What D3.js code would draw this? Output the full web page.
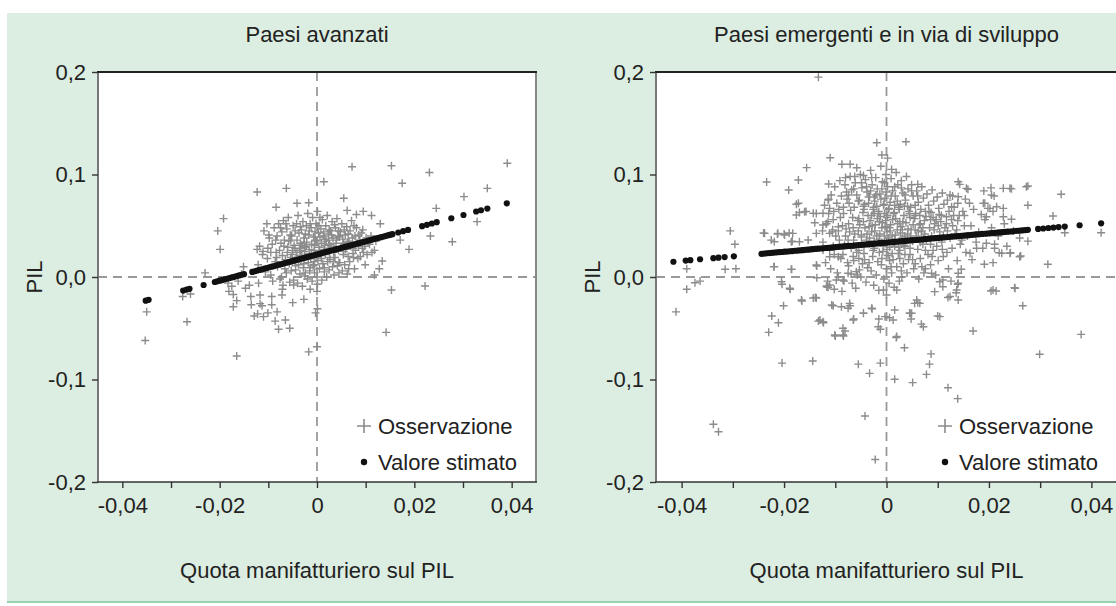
<!DOCTYPE html>
<html><head><meta charset="utf-8">
<script src="https://cdn.jsdelivr.net/npm/d3@7"></script>
<style>
body{margin:0;background:#fff;}
svg{display:block;font-family:"Liberation Sans",Arial,Helvetica,sans-serif;}
</style></head><body>
<svg id="chart" width="1116" height="606"></svg>
<script>
const panelTitles = ["Paesi avanzati", "Paesi emergenti e in via di sviluppo"];
const xDomain = [-0.045, 0.045];
const yDomain = [-0.2, 0.2];
const xTickValues = [-0.04, -0.03, -0.02, -0.01, 0, 0.01, 0.02, 0.03, 0.04];
const xTickLabels = ["-0,04", "", "-0,02", "", "0", "", "0,02", "", "0,04"];
const yTickValues = [0.2, 0.1, 0, -0.1, -0.2];
const yTickLabels = ["0,2", "0,1", "0,0", "-0,1", "-0,2"];
const xTitle = "Quota manifatturiero sul PIL";
const yTitle = "PIL";
const legendLabels = ["Osservazione", "Valore stimato"];

// Paesi avanzati: scattered observations
const advObs = [[-0.0123,0.083],[-0.0063,0.0865],[-0.0084,0.068],[-0.0041,0.072],[-0.0017,0.0725],[-0.0192,0.057],[-0.0204,0.045],[-0.0199,0.027],[-0.0103,0.052],[-0.0099,0.041],[-0.0123,0.027],[-0.0111,0.025],[-0.023,0.004],[-0.0151,0.010],[-0.0183,-0.006],[-0.0175,-0.009],[-0.0181,-0.014],[-0.0172,-0.017],[-0.0165,-0.023],[-0.0172,-0.029],[-0.0139,-0.008],[-0.0136,-0.019],[-0.0135,-0.027],[-0.0129,-0.038],[-0.0122,-0.036],[-0.0101,-0.035],[-0.0113,-0.028],[-0.0093,-0.019],[-0.0086,-0.043],[-0.0079,-0.051],[-0.0071,-0.012],[-0.0050,-0.025],[-0.035,-0.034],[-0.0353,-0.062],[-0.0267,-0.0436],[-0.0276,-0.019],[-0.026,-0.0166],[-0.0165,-0.077],[-0.0017,-0.073],[0.0,-0.068],[-0.0003,-0.035],[0.0,-0.014],[0.0072,0.1076],[0.0153,0.1086],[0.0231,0.102],[0.0391,0.111],[0.0175,0.0914],[0.0014,0.093],[0.0055,0.0768],[0.0302,0.0784],[0.035,0.0865],[0.0245,0.067],[0.0329,0.054],[0.0233,0.040],[0.0278,0.0344],[0.0189,0.027],[0.0171,0.036],[0.0134,0.0156],[0.0153,-0.0127],[0.0222,-0.0088],[0.0142,-0.054],[0.0001,-0.031],[-0.012,-0.006],[-0.0117,-0.0176],[-0.0117,-0.026],[-0.011,-0.0387],[-0.0082,-0.034],[-0.0093,-0.027],[-0.0072,-0.0176],[-0.0065,-0.042],[-0.0056,-0.050],[-0.0048,-0.0078],[-0.0027,-0.0218],[-0.0155,0.003],[-0.0162,-0.004],[-0.0147,-0.011],[0.0130,0.052],[0.0112,0.060],[0.0095,0.064],[0.0128,0.008],[0.0118,0.002],[0.0062,0.065],[0.0081,0.061]];

// Paesi avanzati: dense core of observations
const advCore = [[-0.0118,0.030],[-0.0121,0.012],[-0.0109,0.045],[-0.0112,0.022],[-0.0106,0.005],[-0.0098,0.038],[-0.0102,0.018],[-0.0095,0.002],[-0.0101,0.028],[-0.0088,0.048],[-0.0092,0.032],[-0.0086,0.015],[-0.0091,-0.004],[-0.0084,0.024],[-0.0079,0.052],[-0.0082,0.040],[-0.0077,0.026],[-0.0081,0.010],[-0.0076,-0.002],[-0.0083,0.019],[-0.0069,0.055],[-0.0072,0.044],[-0.0068,0.030],[-0.0071,0.021],[-0.0066,0.008],[-0.0073,0.000],[-0.0067,0.036],[-0.0070,-0.008],[-0.0059,0.058],[-0.0062,0.047],[-0.0058,0.035],[-0.0061,0.024],[-0.0057,0.013],[-0.0063,0.004],[-0.0056,-0.005],[-0.0060,0.029],[-0.0055,0.041],[-0.0049,0.050],[-0.0052,0.040],[-0.0047,0.031],[-0.0051,0.022],[-0.0046,0.016],[-0.0053,0.006],[-0.0048,-0.003],[-0.0045,0.045],[-0.0050,0.026],[-0.0044,0.011],[-0.0039,0.060],[-0.0042,0.052],[-0.0037,0.043],[-0.0041,0.036],[-0.0036,0.028],[-0.0043,0.019],[-0.0038,0.012],[-0.0035,0.003],[-0.0040,-0.006],[-0.0034,0.033],[-0.0041,0.024],[-0.0029,0.054],[-0.0032,0.046],[-0.0027,0.038],[-0.0031,0.031],[-0.0026,0.025],[-0.0033,0.017],[-0.0028,0.009],[-0.0025,0.001],[-0.0030,-0.009],[-0.0024,0.042],[-0.0031,0.021],[-0.0027,0.013],[-0.0019,0.062],[-0.0022,0.050],[-0.0017,0.041],[-0.0021,0.034],[-0.0016,0.027],[-0.0023,0.020],[-0.0018,0.014],[-0.0015,0.006],[-0.0020,-0.002],[-0.0014,-0.012],[-0.0022,0.030],[-0.0016,0.045],[-0.0009,0.058],[-0.0012,0.048],[-0.0007,0.039],[-0.0011,0.032],[-0.0006,0.026],[-0.0013,0.018],[-0.0008,0.011],[-0.0005,0.004],[-0.0010,-0.004],[-0.0004,0.036],[-0.0011,0.022],[-0.0006,0.015],[0.0001,0.064],[-0.0002,0.052],[0.0003,0.043],[-0.0001,0.035],[0.0004,0.029],[-0.0003,0.023],[0.0002,0.016],[0.0005,0.008],[0.0000,0.000],[0.0001,-0.007],[0.0006,0.039],[-0.0002,0.020],[0.0011,0.056],[0.0008,0.047],[0.0013,0.040],[0.0009,0.033],[0.0014,0.027],[0.0007,0.021],[0.0012,0.013],[0.0015,0.005],[0.0010,-0.003],[0.0016,0.037],[0.0009,0.018],[0.0021,0.060],[0.0018,0.050],[0.0023,0.042],[0.0019,0.035],[0.0024,0.028],[0.0017,0.022],[0.0022,0.015],[0.0025,0.007],[0.0020,0.000],[0.0026,0.032],[0.0031,0.054],[0.0028,0.045],[0.0033,0.038],[0.0029,0.030],[0.0034,0.024],[0.0027,0.017],[0.0032,0.010],[0.0035,0.002],[0.0030,0.041],[0.0041,0.057],[0.0038,0.048],[0.0043,0.040],[0.0039,0.033],[0.0044,0.026],[0.0037,0.019],[0.0042,0.011],[0.0045,0.004],[0.0040,0.036],[0.0051,0.052],[0.0048,0.044],[0.0053,0.037],[0.0049,0.029],[0.0054,0.022],[0.0047,0.014],[0.0052,0.006],[0.0055,0.033],[0.0061,0.049],[0.0058,0.041],[0.0063,0.034],[0.0059,0.027],[0.0064,0.020],[0.0057,0.012],[0.0062,0.003],[0.0071,0.055],[0.0068,0.045],[0.0073,0.038],[0.0069,0.030],[0.0074,0.023],[0.0067,0.015],[0.0081,0.048],[0.0078,0.040],[0.0083,0.033],[0.0079,0.026],[0.0084,0.018],[0.0077,0.008],[0.0091,0.043],[0.0088,0.036],[0.0093,0.028],[0.0089,0.020],[0.0094,0.046],[0.0101,0.038],[0.0098,0.030],[0.0103,0.022],[0.0099,0.012],[0.0111,0.040],[0.0108,0.032],[0.0113,0.024],[0.0121,0.035],[0.0118,0.026],
[-0.0065,0.017],[-0.0054,0.036],[-0.0044,0.007],[-0.0034,0.049],[-0.0035,0.021],[-0.0026,0.034],[-0.0024,0.004],[-0.0015,0.023],[-0.0014,0.052],[-0.0005,0.012],[-0.0004,0.044],[0.0005,0.026],[0.0006,0.058],[0.0015,0.009],[0.0016,0.031],[0.0025,0.046],[0.0026,0.019],[0.0035,0.028],[0.0036,0.051],[0.0045,0.014],[0.0046,0.039],[0.0055,0.025],[0.0056,0.046],[0.0065,0.008],[0.0066,0.035],[0.0075,0.019],[0.0076,0.050],[0.0085,0.030],[0.0086,0.041],[0.0095,0.024],[0.0105,0.034],[-0.0074,0.033],[-0.0075,0.048],[-0.0085,0.036],[-0.0095,0.024],[-0.0064,0.052],[-0.0045,0.028],[-0.0025,0.029],[-0.0005,0.031],[0.0004,0.050],[0.0014,0.044],[0.0024,0.036],[0.0034,0.015],[0.0044,0.045],[0.0054,0.030],[0.0064,0.042],[0.0074,0.028],[-0.0054,0.019],[-0.0034,0.026],[-0.0014,0.009]];

// Paesi avanzati: estimated values
const advFit = [[-0.0352,-0.0231],[-0.0346,-0.0223],[-0.0275,-0.0132],[-0.0268,-0.0123],[-0.0262,-0.0115],[-0.0233,-0.0078],[-0.0210,-0.0049],[-0.0200,-0.0036],[-0.0190,-0.0023],[-0.0180,-0.0010],[-0.0170,0.0002],[-0.0160,0.0015],[-0.0150,0.0028],[-0.0133,0.0050],[-0.0123,0.0063],[-0.0113,0.0075],[-0.0103,0.0088],[-0.0093,0.0101],[-0.0083,0.0114],[-0.0073,0.0127],[-0.0063,0.0139],[-0.0053,0.0152],[-0.0043,0.0165],[-0.0033,0.0178],[-0.0023,0.0191],[-0.0013,0.0203],[-0.0003,0.0216],[0.0007,0.0229],[0.0017,0.0242],[0.0027,0.0255],[0.0037,0.0267],[0.0047,0.0280],[0.0057,0.0293],[0.0067,0.0306],[0.0077,0.0319],[0.0087,0.0331],[0.0097,0.0344],[0.0107,0.0357],[0.0117,0.0370],[0.0127,0.0383],[0.0137,0.0395],[0.0147,0.0408],[0.0155,0.0418],[0.0167,0.0434],[0.0177,0.0447],[0.0187,0.0459],[0.0216,0.0496],[0.0226,0.0509],[0.0236,0.0522],[0.0246,0.0535],[0.0276,0.0573],[0.0301,0.0605],[0.0327,0.0639],[0.0337,0.0651],[0.0350,0.0668],[0.0390,0.0719]];
const advFitDense = [[-0.0205,-0.0042],[-0.0195,-0.0030],[-0.0185,-0.0017],[-0.0175,-0.0004],[-0.0165,0.0009],[-0.0155,0.0022],[-0.0128,0.0056],[-0.0118,0.0069],[-0.0108,0.0082],[-0.0098,0.0095],[-0.0088,0.0107],[-0.0078,0.0120],[-0.0068,0.0133],[-0.0058,0.0146],[-0.0048,0.0159],[-0.0038,0.0171],[-0.0028,0.0184],[-0.0018,0.0197],[-0.0008,0.0210],[0.0002,0.0223],[0.0012,0.0235],[0.0022,0.0248],[0.0032,0.0261],[0.0042,0.0274],[0.0052,0.0287],[0.0062,0.0299],[0.0072,0.0312],[0.0082,0.0325],[0.0092,0.0338],[0.0102,0.0351],[0.0112,0.0363],[0.0122,0.0376],[0.0132,0.0389],[0.0142,0.0402],[0.0151,0.0413]];

// Paesi emergenti: scattered observations
const emgObs = [[-0.0133,0.195],[-0.0019,0.131],[-0.0009,0.119],[-0.011,0.1164],[-0.0156,0.1067],[-0.0234,0.0927],[-0.0191,0.0849],[-0.0172,0.0946],[-0.0087,0.110],[-0.0071,0.110],[-0.0058,0.1066],[-0.0080,0.097],[-0.0062,0.098],[-0.0045,0.099],[-0.0113,0.0907],[-0.0113,0.0758],[-0.0176,0.071],[-0.0170,0.063],[-0.0157,0.064],[-0.0137,0.062],[-0.0140,0.053],[-0.0118,0.052],[-0.0125,0.045],[-0.0105,0.046],[-0.0305,0.045],[-0.0296,0.032],[-0.0315,0.0075],[-0.0294,0.008],[-0.039,0.008],[-0.039,-0.012],[-0.0374,-0.0056],[-0.0364,-0.004],[-0.0411,-0.034],[-0.0338,-0.1437],[-0.0328,-0.151],[-0.0240,0.043],[-0.0225,0.036],[-0.0213,0.042],[-0.0200,0.042],[-0.0190,0.043],[-0.0184,0.035],[-0.022,0.010],[-0.0185,0.0075],[-0.0204,-0.007],[-0.0188,-0.012],[-0.0201,-0.028],[-0.0224,-0.038],[-0.0211,-0.0446],[-0.023,-0.054],[-0.0204,-0.084],[-0.0144,-0.082],[-0.0165,-0.0234],[-0.0139,-0.020],[-0.0133,-0.043],[-0.0123,-0.0446],[-0.0104,-0.028],[-0.0100,-0.0576],[-0.0084,-0.0576],[-0.0081,-0.0527],[-0.0136,0.0107],[-0.0136,-0.0007],[-0.0117,-0.0088],[-0.0102,-0.012],[-0.0071,-0.028],[-0.0064,-0.041],[-0.0045,-0.035],[-0.0028,-0.031],[-0.0015,-0.041],[-0.0012,-0.051],[-0.0055,-0.085],[-0.0033,-0.094],[-0.0012,-0.084],[-0.0042,-0.1356],[-0.0022,-0.178],[0.0038,0.132],[0.0002,0.116],[0.0010,0.105],[0.0061,0.0904],[0.0143,0.0904],[0.0159,0.0856],[0.0190,0.084],[0.0204,0.087],[0.0210,0.079],[0.0189,0.072],[0.0198,0.067],[0.0208,0.064],[0.0244,0.086],[0.0276,0.0888],[0.0341,0.0807],[0.0276,0.070],[0.0325,0.0595],[0.0244,0.0563],[0.0348,0.0432],[0.0419,0.0432],[0.0276,0.035],[0.0242,0.0237],[0.0262,0.0205],[0.0211,0.032],[0.0220,0.0237],[0.0191,0.0124],[0.0208,0.014],[0.0315,0.0124],[0.0204,-0.0137],[0.0214,-0.0137],[0.0250,-0.0104],[0.0266,-0.028],[0.0380,-0.056],[0.0299,-0.0754],[0.0169,-0.0527],[0.0146,0.0075],[0.0126,-0.004],[0.0139,-0.007],[0.0136,-0.0153],[0.0120,-0.020],[0.010,-0.038],[0.0061,-0.025],[0.0068,-0.046],[0.0045,-0.035],[0.0048,-0.041],[0.0019,-0.059],[0.0035,-0.069],[0.0087,-0.075],[0.0084,-0.085],[0.0078,-0.095],[0.0016,-0.0998],[0.0051,-0.103],[0.012,-0.108],[0.0139,-0.1187],[0.0006,-0.0397],[-0.0172,0.0719],[-0.0176,0.0605],[-0.016,0.0637],[-0.0143,0.0622],[-0.0124,0.0622],[-0.0114,0.0751],[-0.0111,0.067],[-0.0114,0.054],[-0.0124,0.0507],[-0.0137,0.0426],[-0.0111,0.0426],[-0.0094,0.049],[-0.0238,0.0426],[-0.0212,0.0426],[-0.0199,0.041],[-0.0183,0.0426],[-0.0219,0.0344],[-0.0186,0.0344],[-0.017,0.0344],[-0.0153,0.0361],[-0.0219,0.010],[-0.0186,0.0075],[-0.0137,0.0117],[-0.0124,0.0263],[-0.0111,0.0198],[-0.0094,0.0198],[-0.0205,-0.0046],[-0.0189,-0.011],[-0.0166,-0.0224],[-0.0143,-0.0205],[-0.0137,-0.0205],[-0.0107,-0.0273],[-0.0088,-0.029],[-0.0117,-0.0095],[-0.0111,-0.0078],[-0.0098,-0.0029],[-0.0085,-0.0029],[-0.0075,0.0036],[-0.0059,0.0052],[-0.013,-0.042],[-0.0124,-0.0436],[-0.0101,-0.0566],[-0.0085,-0.0566],[-0.0085,-0.050],[-0.0072,-0.0257],[-0.0075,-0.0305],[-0.0065,-0.042],[-0.0045,-0.0354],[-0.0029,-0.0305],[-0.0016,-0.0485],[-0.0003,-0.0387],[0.0013,-0.042],[0.0016,-0.0322],[0.0,-0.0176],[-0.0006,-0.0127],[0.0059,-0.0224],[0.0046,-0.0354],[0.002,-0.0127],[0.0088,0.0036],[0.0104,-0.0046],[0.011,-0.0029],[0.014,0.0036],[0.014,-0.006],[0.0163,0.0231],[0.0176,0.028],[0.0195,0.0329],[0.0211,0.028],[0.0225,0.0231],[0.0241,0.0231],[0.0260,0.0198],[0.0228,0.0865],[0.0205,0.080],[0.0192,0.0719],[0.0202,0.067],[0.0215,0.0686],[0.0228,0.067],[0.0195,0.0588],[0.0228,0.0588],[0.014,0.093],[0.0156,0.0865],[0.0124,0.080],[0.014,0.0783],[0.0127,0.0686],[0.0117,0.0588],[0.0241,0.0865],[0.0273,0.088],[0.0251,-0.011],[0.0208,-0.0127],[0.0110,-0.0095],[0.0094,-0.0143],[0.0124,-0.019],[0.0137,-0.0127],[0.0140,-0.0224],[0.0104,-0.0387],[0.0065,-0.0257],[0.0072,-0.0485],[0.0055,-0.0257],[0.0049,-0.0354],[0.0020,-0.058],[0.0165,0.050],[0.0180,0.044],[0.0192,0.056],[0.0205,0.048],[0.0218,0.040],[0.0230,0.052],[0.0248,0.045],[0.0260,0.038],[0.0175,0.034],[0.0188,0.028],[0.0158,0.040],[0.0152,0.060],[0.0170,0.066],[0.0185,0.061],[0.0162,0.072],[0.0155,0.024],[0.0167,0.017],[0.0235,0.030]];

// Paesi emergenti: dense core of observations
const emgCore = [[-0.0121,0.070],[-0.0117,0.052],[-0.0124,0.034],[-0.0119,0.014],[-0.0115,-0.004],[-0.0108,0.080],[-0.0113,0.062],[-0.0106,0.044],[-0.0111,0.026],[-0.0109,0.008],[-0.0114,-0.010],[-0.0101,0.088],[-0.0097,0.072],[-0.0104,0.056],[-0.0099,0.040],[-0.0102,0.022],[-0.0096,0.004],[-0.0103,0.064],[-0.0091,0.094],[-0.0088,0.079],[-0.0093,0.066],[-0.0086,0.050],[-0.0092,0.036],[-0.0089,0.018],[-0.0094,0.000],[-0.0087,-0.014],[-0.0090,0.058],[-0.0081,0.090],[-0.0077,0.076],[-0.0084,0.062],[-0.0079,0.047],[-0.0082,0.031],[-0.0076,0.014],[-0.0083,-0.004],[-0.0078,0.083],[-0.0080,0.040],[-0.0085,0.022],[-0.0071,0.098],[-0.0068,0.085],[-0.0073,0.072],[-0.0066,0.058],[-0.0072,0.044],[-0.0069,0.028],[-0.0074,0.011],[-0.0067,-0.006],[-0.0070,0.065],[-0.0075,0.036],[-0.0065,0.020],[-0.0061,0.092],[-0.0058,0.080],[-0.0063,0.068],[-0.0056,0.055],[-0.0062,0.042],[-0.0059,0.030],[-0.0064,0.016],[-0.0057,0.002],[-0.0060,-0.011],[-0.0055,0.074],[-0.0065,0.048],[-0.0058,0.024],[-0.0051,0.100],[-0.0048,0.087],[-0.0053,0.075],[-0.0046,0.063],[-0.0052,0.051],[-0.0049,0.039],[-0.0054,0.026],[-0.0047,0.013],[-0.0050,0.000],[-0.0045,0.069],[-0.0055,0.045],[-0.0048,0.032],[-0.0053,0.007],[-0.0041,0.095],[-0.0038,0.083],[-0.0043,0.071],[-0.0036,0.060],[-0.0042,0.048],[-0.0039,0.036],[-0.0044,0.023],[-0.0037,0.009],[-0.0040,-0.005],[-0.0035,0.078],[-0.0045,0.054],[-0.0038,0.042],[-0.0043,0.017],[-0.0031,0.104],[-0.0028,0.090],[-0.0033,0.078],[-0.0026,0.066],[-0.0032,0.055],[-0.0029,0.044],[-0.0034,0.032],[-0.0027,0.020],[-0.0030,0.006],[-0.0025,-0.008],[-0.0035,0.072],[-0.0028,0.050],[-0.0033,0.038],[-0.0026,0.026],[-0.0031,0.084],[-0.0021,0.097],[-0.0018,0.086],[-0.0023,0.074],[-0.0016,0.062],[-0.0022,0.051],[-0.0019,0.040],[-0.0024,0.028],[-0.0017,0.015],[-0.0020,0.002],[-0.0015,-0.013],[-0.0025,0.068],[-0.0018,0.057],[-0.0023,0.045],[-0.0016,0.034],[-0.0021,0.080],[-0.0011,0.108],[-0.0008,0.093],[-0.0013,0.081],[-0.0006,0.070],[-0.0012,0.059],[-0.0009,0.048],[-0.0014,0.037],[-0.0007,0.025],[-0.0010,0.012],[-0.0005,-0.002],[-0.0015,0.064],[-0.0008,0.053],[-0.0013,0.042],[-0.0006,0.030],[-0.0011,0.076],[-0.0009,0.018],[-0.0001,0.100],[0.0002,0.088],[-0.0003,0.077],[0.0004,0.066],[-0.0002,0.055],[0.0001,0.044],[-0.0004,0.033],[0.0003,0.021],[0.0000,0.008],[0.0005,-0.006],[-0.0005,0.071],[0.0002,0.060],[-0.0003,0.049],[0.0004,0.038],[-0.0001,0.083],[0.0001,0.027],[0.0009,0.096],[0.0012,0.084],[0.0007,0.073],[0.0014,0.062],[0.0008,0.051],[0.0011,0.040],[0.0006,0.029],[0.0013,0.017],[0.0010,0.004],[0.0015,-0.010],[0.0005,0.067],[0.0012,0.056],[0.0007,0.045],[0.0014,0.034],[0.0009,0.079],[0.0019,0.102],[0.0022,0.090],[0.0017,0.079],[0.0024,0.068],[0.0018,0.057],[0.0021,0.046],[0.0016,0.035],[0.0023,0.023],[0.0020,0.010],[0.0025,-0.004],[0.0015,0.063],[0.0022,0.052],[0.0017,0.041],[0.0024,0.029],[0.0029,0.094],[0.0032,0.082],[0.0027,0.071],[0.0034,0.060],[0.0028,0.049],[0.0031,0.038],[0.0026,0.026],[0.0033,0.013],[0.0030,0.000],[0.0025,0.066],[0.0032,0.054],[0.0027,0.043],[0.0034,0.031],[0.0029,0.087],[0.0039,0.098],[0.0042,0.086],[0.0037,0.075],[0.0044,0.064],[0.0038,0.053],[0.0041,0.042],[0.0036,0.030],[0.0043,0.017],[0.0040,0.004],[0.0035,0.069],[0.0042,0.047],[0.0037,0.036],[0.0049,0.090],[0.0052,0.079],[0.0047,0.068],[0.0054,0.057],[0.0048,0.046],[0.0051,0.035],[0.0046,0.022],[0.0053,0.008],[0.0045,0.062],[0.0052,0.051],[0.0047,0.040],[0.0059,0.084],[0.0062,0.073],[0.0057,0.062],[0.0064,0.051],[0.0058,0.040],[0.0061,0.027],[0.0056,0.013],[0.0063,-0.002],[0.0055,0.057],[0.0062,0.045],[0.0069,0.088],[0.0072,0.077],[0.0067,0.066],[0.0074,0.055],[0.0068,0.044],[0.0071,0.032],[0.0066,0.018],[0.0073,0.004],[0.0065,0.060],[0.0072,0.037],[0.0079,0.081],[0.0082,0.070],[0.0077,0.059],[0.0084,0.048],[0.0078,0.036],[0.0081,0.022],[0.0076,0.008],[0.0083,0.064],[0.0075,0.042],[0.0089,0.085],[0.0092,0.074],[0.0087,0.063],[0.0094,0.052],[0.0088,0.040],[0.0091,0.026],[0.0086,0.012],[0.0093,0.046],[0.0099,0.078],[0.0102,0.067],[0.0097,0.056],[0.0104,0.044],[0.0098,0.030],[0.0101,0.016],[0.0096,0.002],[0.0103,0.061],[0.0109,0.082],[0.0112,0.071],[0.0107,0.060],[0.0114,0.048],[0.0108,0.034],[0.0111,0.020],[0.0106,0.054],[0.0119,0.075],[0.0122,0.064],[0.0117,0.052],[0.0124,0.038],[0.0118,0.024],[0.0121,0.008],[0.0129,0.079],[0.0132,0.068],[0.0127,0.056],[0.0134,0.042],[0.0128,0.028],[0.0131,0.060],[0.0139,0.072],[0.0142,0.060],[0.0137,0.046],[0.0144,0.032],[0.0138,0.016],[0.0149,0.064],[0.0152,0.050],[0.0147,0.036],[0.0154,0.076],
[-0.0064,0.036],[-0.0054,0.057],[-0.0044,0.030],[-0.0044,0.066],[-0.0034,0.049],[-0.0034,0.014],[-0.0024,0.035],[-0.0024,0.078],[-0.0014,0.054],[-0.0014,0.024],[-0.0004,0.040],[-0.0004,0.062],[0.0006,0.016],[0.0006,0.048],[0.0016,0.070],[0.0016,0.030],[0.0026,0.054],[0.0026,0.018],[0.0036,0.040],[0.0036,0.080],[0.0046,0.058],[0.0046,0.028],[0.0056,0.046],[0.0056,0.070],[0.0066,0.034],[0.0066,0.052],[0.0076,0.064],[0.0076,0.026],[0.0086,0.056],[0.0086,0.032],[-0.0074,0.052],[-0.0074,0.080],[-0.0084,0.068],[-0.0064,0.086],[-0.0054,0.018],[-0.0024,0.062],[-0.0004,0.092],[0.0016,0.088],[0.0036,0.022],[0.0056,0.060],[-0.0039,0.088],[-0.0019,0.069],[0.0001,0.058],[0.0021,0.074],[0.0041,0.069],[0.0061,0.079],[-0.0049,0.041],[-0.0029,0.060],[-0.0009,0.086],[0.0011,0.023],[0.0031,0.046],[0.0051,0.017],[0.0071,0.048],[0.0091,0.058],[0.0101,0.050],[0.0111,0.040],[-0.0094,0.045],[-0.0104,0.030],[-0.0069,0.003],[-0.0049,0.092],[-0.0029,0.097],[0.0009,0.010],[0.0029,0.006],[0.0049,0.084],[0.0069,0.010],[0.0089,0.020],[0.0109,0.027],[0.0119,0.045],[0.0129,0.050],[0.0139,0.055]];

// Paesi emergenti: estimated values
const emgFit = [[-0.0416,0.0149],[-0.0392,0.0160],[-0.0383,0.0164],[-0.0364,0.0173],[-0.0338,0.0184],[-0.0328,0.0189],[-0.0316,0.0194],[-0.0298,0.0202],[-0.0244,0.0226],[-0.0234,0.0231],[-0.0224,0.0235],[-0.0214,0.0240],[-0.0204,0.0244],[-0.0194,0.0249],[-0.0184,0.0253],[-0.0174,0.0258],[-0.0164,0.0262],[-0.0154,0.0267],[-0.0144,0.0271],[-0.0134,0.0276],[-0.0124,0.0280],[-0.0114,0.0285],[-0.0104,0.0289],[-0.0094,0.0294],[-0.0084,0.0298],[-0.0074,0.0303],[-0.0064,0.0307],[-0.0054,0.0312],[-0.0044,0.0316],[-0.0034,0.0321],[-0.0024,0.0325],[-0.0014,0.0330],[-0.0004,0.0334],[0.0006,0.0339],[0.0016,0.0343],[0.0026,0.0348],[0.0036,0.0352],[0.0046,0.0357],[0.0056,0.0361],[0.0066,0.0366],[0.0076,0.0370],[0.0086,0.0375],[0.0096,0.0379],[0.0106,0.0384],[0.0116,0.0388],[0.0126,0.0393],[0.0136,0.0397],[0.0146,0.0402],[0.0156,0.0406],[0.0166,0.0411],[0.0176,0.0415],[0.0186,0.0420],[0.0196,0.0424],[0.0206,0.0428],[0.0216,0.0433],[0.0226,0.0437],[0.0236,0.0442],[0.0246,0.0446],[0.0256,0.0451],[0.0266,0.0455],[0.0276,0.0460],[0.0296,0.0469],[0.0306,0.0473],[0.0316,0.0478],[0.0326,0.0482],[0.0336,0.0487],[0.0348,0.0492],[0.0377,0.0505],[0.0419,0.0524]];
const emgFitDense = [[-0.0239,0.0229],[-0.0229,0.0233],[-0.0219,0.0238],[-0.0209,0.0242],[-0.0199,0.0247],[-0.0189,0.0251],[-0.0179,0.0256],[-0.0169,0.0260],[-0.0159,0.0265],[-0.0149,0.0269],[-0.0139,0.0274],[-0.0129,0.0278],[-0.0119,0.0283],[-0.0109,0.0287],[-0.0099,0.0292],[-0.0089,0.0296],[-0.0079,0.0301],[-0.0069,0.0305],[-0.0059,0.0310],[-0.0049,0.0314],[-0.0039,0.0318],[-0.0029,0.0323],[-0.0019,0.0327],[-0.0009,0.0332],[0.0001,0.0336],[0.0011,0.0341],[0.0021,0.0345],[0.0031,0.0350],[0.0041,0.0354],[0.0051,0.0359],[0.0061,0.0363],[0.0071,0.0368],[0.0081,0.0372],[0.0091,0.0377],[0.0101,0.0381],[0.0111,0.0386],[0.0121,0.0390],[0.0131,0.0395],[0.0141,0.0399],[0.0151,0.0404],[0.0161,0.0408],[0.0171,0.0413],[0.0181,0.0417],[0.0191,0.0422],[0.0201,0.0426],[0.0211,0.0431],[0.0221,0.0435],[0.0231,0.0440],[0.0241,0.0444],[0.0251,0.0449],[0.0261,0.0453],[0.0271,0.0458]];

const W = 1116, H = 606;
const FONT = 22;
const svg = d3.select("#chart");

// background panel
svg.append("rect").attr("x", 7).attr("y", 13).attr("width", W - 7).attr("height", 589).attr("fill", "#dcede1");
svg.append("rect").attr("x", 7).attr("y", 601).attr("width", W - 7).attr("height", 2).attr("fill", "#93d3ad");

const yTop = 72, yBot = 482;
const panels = [
  {title: panelTitles[0], obs: advCore.concat(advObs), fit: advFit.concat(advFitDense), x0: 98, x1: 536},
  {title: panelTitles[1], obs: emgCore.concat(emgObs), fit: emgFit.concat(emgFitDense), x0: 656, x1: 1117}
];

panels.forEach(p => {
  const x = d3.scaleLinear().domain(xDomain).range([p.x0, p.x1]);
  const y = d3.scaleLinear().domain(yDomain).range([yBot, yTop]);
  const g = svg.append("g");

  g.append("rect").attr("x", p.x0).attr("y", yTop).attr("width", p.x1 - p.x0).attr("height", yBot - yTop).attr("fill", "#fff");

  // reference dashed lines
  g.append("line").attr("x1", x(0)).attr("x2", x(0)).attr("y1", yTop).attr("y2", yBot)
    .attr("stroke", "#999").attr("stroke-width", 1.8).attr("stroke-dasharray", "9,6");
  g.append("line").attr("x1", p.x0).attr("x2", p.x1).attr("y1", y(0)).attr("y2", y(0))
    .attr("stroke", "#999").attr("stroke-width", 1.8).attr("stroke-dasharray", "9,6");

  // observations as plus markers
  const s = 4;
  g.append("path")
    .attr("d", p.obs.map(d => `M${x(d[0]) - s},${y(d[1])}h${2 * s}M${x(d[0])},${y(d[1]) - s}v${2 * s}`).join(""))
    .attr("stroke", "#8c8c8c").attr("stroke-width", 1.4).attr("fill", "none");

  // estimated values
  g.selectAll("circle.fit").data(p.fit).join("circle").attr("class", "fit")
    .attr("cx", d => x(d[0])).attr("cy", d => y(d[1])).attr("r", 3.1).attr("fill", "#111");

  // frame
  g.append("line").attr("x1", p.x0).attr("x2", p.x0).attr("y1", yTop).attr("y2", yBot).attr("stroke", "#777").attr("stroke-width", 2);
  g.append("line").attr("x1", p.x1).attr("x2", p.x1).attr("y1", yTop).attr("y2", yBot).attr("stroke", "#888").attr("stroke-width", 2);
  g.append("line").attr("x1", p.x0 - 1).attr("x2", p.x1 + 1).attr("y1", yTop).attr("y2", yTop).attr("stroke", "#222").attr("stroke-width", 2);
  g.append("line").attr("x1", p.x0 - 1).attr("x2", p.x1 + 1).attr("y1", yBot).attr("y2", yBot).attr("stroke", "#333").attr("stroke-width", 1.6);

  // axes
  const xAxis = d3.axisBottom(x).tickValues(xTickValues).tickSize(6).tickPadding(9)
    .tickFormat((d, i) => xTickLabels[i]);
  const gx = g.append("g").attr("transform", `translate(0,${yBot})`).call(xAxis);
  gx.select(".domain").remove();
  gx.selectAll(".tick line").attr("stroke", "#333").attr("stroke-width", 1.4);
  gx.selectAll(".tick text").attr("font-size", FONT).attr("fill", "#222").attr("font-family", null);

  const yAxis = d3.axisLeft(y).tickValues(yTickValues).tickSize(6).tickPadding(6)
    .tickFormat((d, i) => yTickLabels[i]);
  const gy = g.append("g").attr("transform", `translate(${p.x0},0)`).call(yAxis);
  gy.select(".domain").remove();
  gy.selectAll(".tick line").attr("stroke", "#333").attr("stroke-width", 1.4);
  gy.selectAll(".tick text").attr("font-size", FONT).attr("fill", "#222").attr("font-family", null);

  // titles
  g.append("text").attr("x", x(0)).attr("y", 42).attr("text-anchor", "middle")
    .attr("font-size", FONT).attr("fill", "#222").text(p.title);
  g.append("text").attr("x", x(0)).attr("y", 578).attr("text-anchor", "middle")
    .attr("font-size", FONT).attr("fill", "#222").text(xTitle);
  g.append("text").attr("transform", `translate(${p.x0 - 64},${y(0)}) rotate(-90)`)
    .attr("text-anchor", "middle").attr("dy", "0.35em")
    .attr("font-size", FONT).attr("fill", "#222").text(yTitle);

  // legend
  const lx = p.x1 - 172;
  g.append("path").attr("d", `M${lx - 7},426h14M${lx},419v14`).attr("stroke", "#8c8c8c").attr("stroke-width", 1.6);
  g.append("circle").attr("cx", lx).attr("cy", 462).attr("r", 3.2).attr("fill", "#111");
  g.append("text").attr("x", lx + 14).attr("y", 434).attr("font-size", FONT).attr("fill", "#222").text(legendLabels[0]);
  g.append("text").attr("x", lx + 14).attr("y", 470).attr("font-size", FONT).attr("fill", "#222").text(legendLabels[1]);
});
</script>
</body></html>
